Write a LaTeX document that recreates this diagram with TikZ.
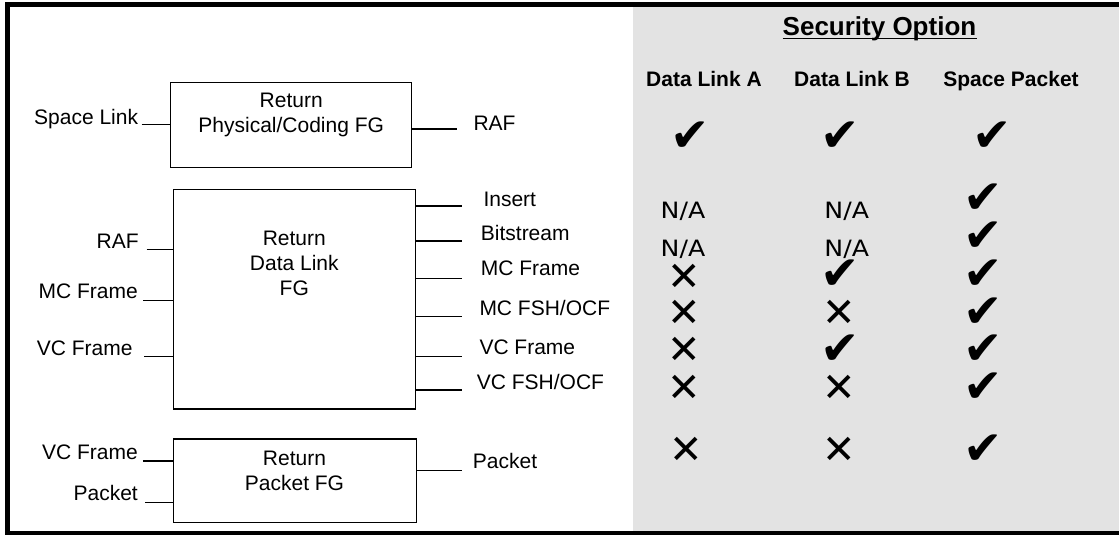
\documentclass[tikz,border=0pt]{standalone}
\usepackage{fontspec}
\setmainfont{Liberation Sans}
\newfontfamily\dvs{DejaVu Sans}
\newfontfamily\dvsw[FakeStretch=1.12]{DejaVu Sans}
\definecolor{panel}{HTML}{E3E3E3}
\begin{document}
\begin{tikzpicture}[x=1pt,y=-1pt,
  lab/.style={inner sep=0pt, font=\fontsize{21}{24}\selectfont},
  hdr/.style={inner sep=0pt, font=\fontsize{21}{24}\selectfont\bfseries},
  ttl/.style={inner sep=0pt, font=\fontsize{26}{30}\selectfont\bfseries},
  fgbox/.style={draw=black, line width=1.5pt, inner sep=0pt},
  conn/.style={line width=1.5pt},
  chk/.style={inner sep=0pt, font=\dvs\fontsize{47}{47}\selectfont},
  crs/.style={inner sep=0pt, font=\dvs\fontsize{40}{40}\selectfont},
  na/.style={inner sep=0pt, font=\dvsw\fontsize{22.5}{26}\selectfont}]
\useasboundingbox (0,0) rectangle (1119,535);
% panel and frame
\fill[panel] (632.7,7) rectangle (1119,531.5);
\draw[line width=4.8pt, miter limit=10] (1125,4.6) -- (7.6,4.6) -- (7.6,533.4) -- (1125,533.4);

% function group boxes
\node[fgbox, minimum width=241pt, minimum height=84.6pt] (phys) at (291.2,125) {};
\node[fgbox, minimum width=242.4pt, minimum height=219.7pt] (dl) at (294.5,299.2) {};
\node[fgbox, minimum width=242.8pt, minimum height=83.3pt] (pkt) at (294.9,480.7) {};

\node[lab, anchor=base] (physA) at (291.2,107.7) {Return};
\node[lab, anchor=base] (physB) at (291.2,132.7) {Physical/Coding FG};
\node[lab, anchor=base] (dlA) at (294.3,245) {Return};
\node[lab, anchor=base] (dlB) at (294.3,270.7) {Data Link};
\node[lab, anchor=base] (dlC) at (294.3,295) {FG};
\node[lab, anchor=base] (pktA) at (294.5,465) {Return};
\node[lab, anchor=base] (pktB) at (294.5,490) {Packet FG};

% left labels
\node[lab, anchor=base east] (lSL) at (138.3,124) {Space Link};
\node[lab, anchor=base east] (lRAF) at (138.8,248.3) {RAF};
\node[lab, anchor=base east] (lMC) at (138,298.3) {MC Frame};
\node[lab, anchor=base east] (lVC) at (132.7,355.7) {VC Frame};
\node[lab, anchor=base east] (lVC2) at (138,459) {VC Frame};
\node[lab, anchor=base east] (lPk) at (138,500) {Packet};

% right labels
\node[lab, anchor=base west] (rRAF) at (473.3,130) {RAF};
\node[lab, anchor=base west] (rIns) at (483.3,206.7) {Insert};
\node[lab, anchor=base west] (rBit) at (480.7,240.7) {Bitstream};
\node[lab, anchor=base west] (rMC) at (480.7,275.7) {MC Frame};
\node[lab, anchor=base west] (rMCF) at (479.3,315) {MC FSH/OCF};
\node[lab, anchor=base west] (rVC) at (479.3,354.3) {VC Frame};
\node[lab, anchor=base west] (rVCF) at (476.7,389.3) {VC FSH/OCF};
\node[lab, anchor=base west] (rPk) at (472.7,468.3) {Packet};

% connector free ends
\coordinate (cSL) at (141.7,124.3);
\coordinate (cRAF) at (457.3,129);
\coordinate (cdRAF) at (146.7,249.3);
\coordinate (cdMC) at (143.3,300.7);
\coordinate (cdVC) at (144,356.7);
\coordinate (cIns) at (461.7,206);
\coordinate (cBit) at (461.7,241);
\coordinate (cMC) at (461.7,278.3);
\coordinate (cMCF) at (461.7,316.7);
\coordinate (cVC) at (461.7,356.7);
\coordinate (cVCF) at (461.7,390);
\coordinate (cpVC) at (142.9,461);
\coordinate (cpPk) at (145,502.7);
\coordinate (cpOut) at (462,470.7);

\draw[conn] (cSL) -- (cSL -| phys.west);
\draw[conn] (cRAF -| phys.east) -- (cRAF);
\draw[conn] (cdRAF) -- (cdRAF -| dl.west);
\draw[conn] (cdMC) -- (cdMC -| dl.west);
\draw[conn] (cdVC) -- (cdVC -| dl.west);
\foreach \c in {cIns,cBit,cMC,cMCF,cVC,cVCF}{
  \draw[conn] (\c -| dl.east) -- (\c);
}
\draw[conn] (cpVC) -- (cpVC -| pkt.west);
\draw[conn] (cpPk) -- (cpPk -| pkt.west);
\draw[conn] (cpOut -| pkt.east) -- (cpOut);

% security option panel
\node[ttl, anchor=base] (so) at (879.5,36) {Security Option};
\draw[line width=1.6pt] ([yshift=-2.6pt]so.base west) -- ([yshift=-2.6pt]so.base east);
\node[hdr, anchor=base] (hA) at (704,86.7) {Data Link A};
\node[hdr, anchor=base] (hB) at (852,86.7) {Data Link B};
\node[hdr, anchor=base] (hC) at (1011,86.7) {Space Packet};

% row: physical
\node[chk] (a1) at (690,136.7) {✔};
\node[chk] (b1) at (840,136.7) {✔};
\node[chk] (c1) at (991.7,136.7) {✔};
% data link rows
\node[na, anchor=base] (a2) at (683,218.3) {N/A};
\node[na, anchor=base] (b2) at (846.7,218.3) {N/A};
\node[chk] (c2) at (982.7,199) {✔};
\node[na, anchor=base] (a3) at (683,256) {N/A};
\node[na, anchor=base] (b3) at (846.7,256) {N/A};
\node[chk] (c3) at (982.7,236.7) {✔};
\node[crs] (a4) at (684,277.5) {✕};
\node[chk] (b4) at (840,275) {✔};
\node[chk] (c4) at (982.7,275) {✔};
\node[crs] (a5) at (684,313.3) {✕};
\node[crs] (b5) at (839,313.3) {✕};
\node[chk] (c5) at (982.7,312.7) {✔};
\node[crs] (a6) at (684,350.7) {✕};
\node[chk] (b6) at (840,350) {✔};
\node[chk] (c6) at (982.7,350) {✔};
\node[crs] (a7) at (684,388.3) {✕};
\node[crs] (b7) at (839,388.3) {✕};
\node[chk] (c7) at (982.7,387.3) {✔};
% packet row
\node[crs] (a8) at (686,450.7) {✕};
\node[crs] (b8) at (839,450.7) {✕};
\node[chk] (c8) at (982.7,450) {✔};
\end{tikzpicture}
\end{document}
